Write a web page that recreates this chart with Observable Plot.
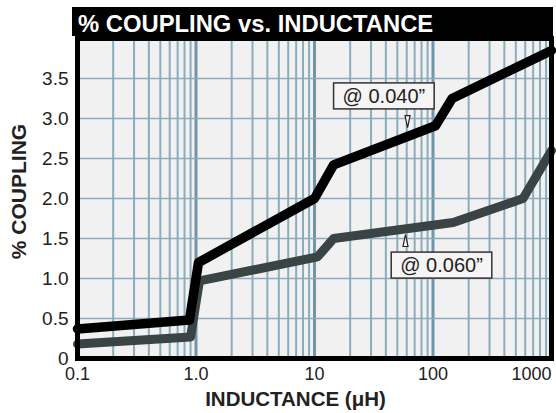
<!DOCTYPE html>
<html><head><meta charset="utf-8">
<script src="https://cdn.jsdelivr.net/npm/d3@7"></script>
<script src="https://cdn.jsdelivr.net/npm/@observablehq/plot@0.6"></script>
<style>
body{margin:0;background:#fff;font-family:"Liberation Sans",Arial,sans-serif;}
#title{margin:7px 0 0 72px;width:481px;height:29px;background:#000;color:#fff;font-weight:bold;font-size:23.8px;line-height:34px;padding-left:6px;box-sizing:border-box;white-space:nowrap;}
#chart svg{display:block;}
</style></head><body>
<div id="title">% COUPLING vs. INDUCTANCE</div>
<div id="chart"></div>
<script>
// Series @ 0.040"
const inductance040 = [0.1, 0.88, 1.05, 10, 14.5, 105, 145, 1000];
const coupling040   = [0.37, 0.48, 1.2, 2.0, 2.42, 2.91, 3.25, 3.85];
// Series @ 0.060"
const inductance060 = [0.1, 0.9, 1.07, 10.6, 14.5, 148, 575, 1000];
const coupling060   = [0.18, 0.27, 0.97, 1.27, 1.5, 1.70, 2.0, 2.6];
// Axis ticks
const xTickValues = [0.1, 1, 10, 100, 1000];
const xTickLabels = ["0.1", "1.0", "10", "100", "1000"];
const yTickValues = [0, 0.5, 1, 1.5, 2, 2.5, 3, 3.5];
const yTickLabels = ["0", "0.5", "1.0", "1.5", "2.0", "2.5", "3.0", "3.5"];
// Callouts
const calloutLabels = ["@ 0.040\u201D", "@ 0.060\u201D"];
const calloutX = [38.5, 118];
const calloutY = [3.275, 1.16];
const arrowX = [61, 58.6];
const arrowY = [2.96, 1.475];

const s040 = inductance040.map((x, i) => ({x, y: coupling040[i]}));
const s060 = inductance060.map((x, i) => ({x, y: coupling060[i]}));

const narrowTriangle = {
  draw(context, size) {
    const r = Math.sqrt(size / Math.PI);
    context.moveTo(0, -r);
    context.lineTo(r * 0.42, r);
    context.lineTo(-r * 0.42, r);
    context.closePath();
  }
};

const font = "Liberation Sans, Arial, sans-serif";
const chart = Plot.plot({
  width: 556,
  height: 377,
  marginTop: 2,
  marginLeft: 77,
  marginRight: 5,
  marginBottom: 55,
  style: {fontFamily: font, background: "#fff"},
  x: {type: "log", domain: [0.1, 1000]},
  y: {domain: [0, 4]},
  marks: [
    Plot.frame({fill: "#f2f1f2"}),
    Plot.gridX({ticks: 40, stroke: "#8aadbe", strokeOpacity: 1, strokeWidth: 2}),
    Plot.gridX(xTickValues, {stroke: "#6f96a9", strokeOpacity: 1, strokeWidth: 3}),
    Plot.gridY(yTickValues, {stroke: "#8eabba", strokeOpacity: 1, strokeWidth: 1.5}),
    Plot.line(s060, {x: "x", y: "y", stroke: "#3b4444", strokeWidth: 9, strokeLinejoin: "round"}),
    Plot.line(s040, {x: "x", y: "y", stroke: "#000", strokeWidth: 9.5, strokeLinejoin: "round"}),
    Plot.frame({stroke: "#000", strokeWidth: 5}),
    Plot.axisY(yTickValues, {tickSize: 0, tickPadding: 9, fontSize: 19, color: "#222",
      tickFormat: d => yTickLabels[yTickValues.indexOf(d)], label: null}),
    Plot.axisX(xTickValues.slice(0, 4), {tickSize: 0, tickPadding: 9, fontSize: 18, color: "#222",
      tickFormat: d => xTickLabels[xTickValues.indexOf(d)], label: null}),
    Plot.axisX(xTickValues.slice(4), {tickSize: 0, tickPadding: 9, fontSize: 18, color: "#222", textAnchor: "end",
      tickFormat: d => xTickLabels[xTickValues.indexOf(d)], label: null}),
    Plot.text(["INDUCTANCE (\u03BCH)"], {frameAnchor: "bottom", lineAnchor: "middle", textAnchor: "middle", dy: 41, dx: -19, fontSize: 20.5, fontWeight: "bold", fill: "#222"}),
    Plot.text(["% COUPLING"], {frameAnchor: "left", textAnchor: "middle", lineAnchor: "middle", dx: -58, dy: -7, rotate: -90, fontSize: 21, fontWeight: "bold", fill: "#222"}),
    Plot.text(calloutLabels, {x: calloutX, y: calloutY, text: d => d, fontSize: 20, fill: "#222", className: "callout"}),
    Plot.dot([0], {x: [arrowX[0]], y: [arrowY[0]], symbol: narrowTriangle, r: 6, rotate: 180, fill: "#f6f4f4", stroke: "#222", strokeWidth: 1.2}),
    Plot.dot([1], {x: [arrowX[1]], y: [arrowY[1]], symbol: narrowTriangle, r: 6, fill: "#f6f4f4", stroke: "#222", strokeWidth: 1.2})
  ]
});
document.getElementById("chart").append(chart);

d3.select(chart).selectAll("g.callout text").each(function() {
  const b = this.getBBox();
  const rect = document.createElementNS("http://www.w3.org/2000/svg", "rect");
  rect.setAttribute("x", b.x - 9);
  rect.setAttribute("y", b.y - 2);
  rect.setAttribute("width", b.width + 18);
  rect.setAttribute("height", b.height + 4);
  rect.setAttribute("fill", "#f6f4f4");
  rect.setAttribute("stroke", "#333");
  rect.setAttribute("stroke-width", 1.5);
  const t = this.getAttribute("transform");
  if (t) rect.setAttribute("transform", t);
  this.parentNode.insertBefore(rect, this);
});
</script>
</body></html>
